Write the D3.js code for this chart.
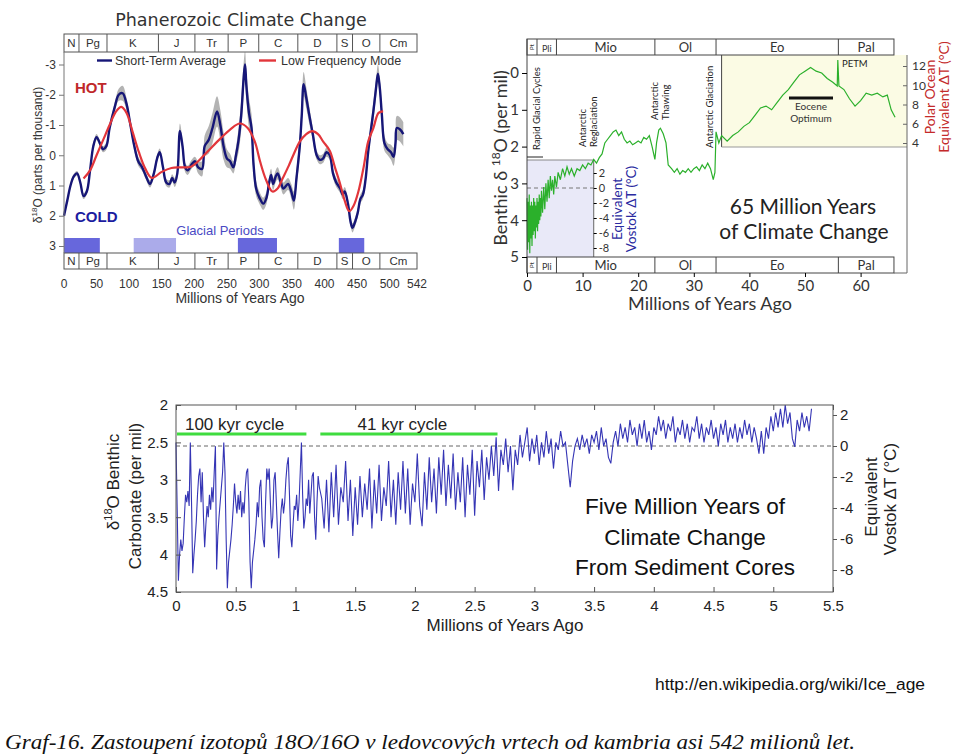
<!DOCTYPE html>
<html><head><meta charset="utf-8">
<script src="https://cdn.jsdelivr.net/npm/d3@7/dist/d3.min.js"></script>
<style>
body{margin:0;background:#fff}
svg{display:block}
text{font-family:"Liberation Sans",Arial,sans-serif;fill:#222}
</style>
</head><body>
<svg id="chart" width="960" height="756"></svg>
<script>
// ================= DATA =================
// Panel 1: Phanerozoic
const periodNames  = ["N","Pg","K","J","Tr","P","C","D","S","O","Cm"];
const periodBounds = [0,23,66,145,201,252,299,359,419,443,485,542];
const glacialFrom  = [0,107,267,422];
const glacialTo    = [55,172,327,461];
const glacialShade = ["dark","light","dark","dark"];
const p1YTicks = [-3,-2,-1,0,1,2,3];
const p1XTicks = [0,50,100,150,200,250,300,350,400,450,500,542];
// [Ma, d18O, uncertainty half-width]
const shortTerm = [
[0,2.0,0.08],[5,1.5,0.08],[10,1.0,0.08],[15,0.7,0.08],[20,0.6,0.08],[25,0.9,0.08],[30,1.35,0.1],[35,1.2,0.1],[40,0.5,0.1],[45,-0.3,0.1],[50,-0.6,0.1],[55,-0.4,0.1],[60,-0.2,0.1],[65,-0.3,0.12],[70,-0.9,0.12],[78,-1.6,0.15],[84,-2.0,0.2],[90,-2.05,0.25],[96,-1.7,0.2],[102,-1.0,0.15],[108,-0.3,0.15],[114,0.2,0.15],[120,0.4,0.12],[126,0.7,0.12],[132,0.95,0.12],[138,0.6,0.12],[143,0.1,0.12],[147,-0.1,0.12],[152,0.4,0.12],[157,0.9,0.12],[162,0.95,0.12],[166,0.75,0.12],[170,0.9,0.15],[174,0.6,0.2],[178,-0.8,0.25],[182,-0.3,0.2],[186,0.4,0.15],[190,0.5,0.15],[196,0.3,0.15],[201,0.2,0.15],[206,0.4,0.2],[212,0.45,0.25],[216,-0.3,0.35],[222,-0.5,0.45],[228,-0.9,0.5],[235,-1.45,0.5],[240,-1.0,0.5],[245,-0.3,0.45],[250,0.1,0.3],[255,0.2,0.25],[260,0.4,0.2],[264,0.0,0.25],[268,-0.5,0.4],[272,-1.3,0.5],[276,-2.6,0.5],[278,-3.0,0.45],[280,-2.3,0.5],[284,-1.4,0.5],[288,-0.9,0.45],[291,0.3,0.35],[295,1.1,0.25],[300,1.4,0.2],[306,1.6,0.2],[311,1.4,0.2],[315,0.9,0.2],[318,0.65,0.2],[321,0.95,0.2],[325,0.7,0.2],[328,0.6,0.2],[333,0.9,0.2],[337,1.1,0.2],[344,0.95,0.2],[349,1.2,0.25],[353,1.5,0.3],[357,0.75,0.3],[362,-0.3,0.35],[365,-1.3,0.4],[368,-2.35,0.4],[372,-1.9,0.35],[376,-1.4,0.3],[382,-0.7,0.2],[388,0.0,0.15],[393,0.15,0.15],[398,0.1,0.15],[403,-0.1,0.15],[408,0.0,0.15],[413,0.6,0.15],[418,0.9,0.15],[424,1.1,0.15],[428,1.3,0.15],[431,1.2,0.15],[436,1.6,0.15],[440,2.2,0.15],[443,2.4,0.15],[447,2.2,0.15],[451,1.9,0.15],[455,1.45,0.15],[459,1.3,0.15],[463,0.8,0.2],[467,-0.1,0.2],[471,-0.8,0.25],[475,-1.45,0.3],[479,-2.2,0.3],[482,-2.7,0.3],[485,-2.2,0.3],[488,-1.35,0.3],[492,-0.4,0.25],[497,-0.2,0.2],[502,-0.1,0.25],[506,0.05,0.3],[509,-0.4,0.35],[511,-0.9,0.4],[516,-0.85,0.4],[521,-0.7,0.4]];
const lowFreq = [
[30,0.77],[40,0.5],[50,0.0],[60,-0.5],[70,-1.0],[80,-1.45],[88,-1.6],[96,-1.4],[105,-0.8],[115,-0.1],[125,0.45],[135,0.75],[150,0.55],[165,0.42],[180,0.4],[195,0.38],[206,0.2],[215,0.0],[224,-0.2],[240,-0.55],[255,-0.85],[270,-1.05],[282,-0.9],[293,-0.45],[301,0.2],[310,0.8],[320,1.2],[328,1.1],[336,0.75],[345,0.35],[352,0.0],[362,-0.45],[372,-0.7],[381,-0.8],[390,-0.7],[398,-0.45],[408,-0.15],[416,0.4],[424,0.95],[431,1.5],[438,1.85],[445,1.65],[452,1.2],[460,0.4],[467,-0.45],[475,-0.9],[483,-1.4],[490,-1.45]];

// Panel 2: 65 Myr
const epochNames  = ["Pt","Pli","Mio","Ol","Eo","Pal"];
const epochBounds = [0,1.8,5.3,23,34,56,66];
const p2XTicks = [0,10,20,30,40,50,60];
const p2YTicks = [0,1,2,3,4,5];
const vostokTicks = [2,0,-2,-4,-6,-8];
const polarTicks = [12,10,8,6,4];
const green65 = [
[0,3.4],[0.1,4.8],[0.2,3.5],[0.3,4.6],[0.4,3.3],[0.5,4.9],[0.6,3.6],[0.7,4.5],[0.8,3.5],[0.9,4.7],[1.0,3.6],[1.1,4.4],[1.2,3.4],[1.3,4.3],[1.4,3.5],[1.5,4.5],[1.6,3.6],[1.7,4.2],[1.8,3.4],[1.9,4.3],[2.0,3.5],[2.1,4.1],[2.2,3.3],[2.3,4.0],[2.4,3.4],[2.5,3.9],[2.6,3.2],[2.8,3.8],[3.0,3.1],[3.2,3.7],[3.4,3.0],[3.6,3.5],[3.8,2.9],[4.0,3.4],[4.2,2.8],[4.4,3.2],[4.6,2.9],[4.8,3.3],[5.0,2.8],[5.3,3.1],[5.6,2.7],[6.0,2.9],[6.4,2.6],[6.8,2.8],[7.2,2.55],[7.6,2.75],[8.0,2.6],[8.5,2.8],[9.0,2.6],[9.5,2.65],[10,2.5],[10.5,2.6],[11,2.45],[11.5,2.5],[12,2.35],[12.5,2.45],[13,2.3],[13.5,2.2],[14,1.9],[14.5,1.8],[15,1.7],[15.5,1.6],[16,1.55],[16.5,1.7],[17,1.6],[17.5,1.8],[18,1.9],[18.5,1.85],[19,1.95],[19.5,1.9],[20,1.85],[20.5,1.9],[21,1.75],[21.5,1.8],[22,1.7],[22.5,2.0],[23,2.35],[23.3,1.9],[23.7,1.55],[24,1.5],[24.5,1.65],[25,1.9],[25.4,2.5],[26,2.6],[26.5,2.7],[27,2.6],[27.5,2.75],[28,2.65],[28.5,2.7],[29,2.6],[29.5,2.7],[30,2.6],[30.5,2.55],[31,2.65],[31.5,2.5],[32,2.6],[32.5,2.45],[33,2.6],[33.5,2.9],[33.8,2.7],[34,1.6],[34.5,1.9],[35,1.7],[36,1.85],[37,1.7],[38,1.6],[39,1.45],[40,1.35],[41,1.15],[42,0.95],[43,0.9],[44,1.0],[45,0.8],[46,0.6],[47,0.45],[48,0.25],[49,0.05],[50,-0.05],[51,-0.15],[52,-0.05],[53,0.0],[54,0.15],[55,0.25],[55.8,0.35],[55.9,-0.35],[56.1,0.35],[57,0.45],[58,0.7],[59,0.9],[60,0.75],[61,0.55],[62,0.6],[63,0.55],[64,0.65],[64.8,0.6],[65.5,1.0],[66.2,1.2]];

// Panel 3: 5 Myr (two uniformly sampled segments)
const cycleAStart = 0, cycleAStep = 0.01;
const cycleA = [
2.5,3.4,4.35,4.0,3.8,3.95,3.85,3.5,3.2,3.3,
3.15,3.35,2.5,3.3,4.25,4.0,3.8,3.55,3.2,2.95,
2.85,3.3,2.9,3.5,3.9,3.6,3.35,3.5,3.2,3.4,
3.1,3.3,2.9,2.55,4.2,3.75,3.5,3.3,3.1,2.9,
2.5,2.9,3.8,4.45,4.1,3.95,3.8,3.6,3.35,3.05,
3.3,3.45,3.2,3.4,3.15,3.5,3.3,3.45,3.1,2.9,
2.85,3.3,4.1,4.45,4.1,3.95,3.8,3.6,3.3,3.5,
3.1,3.0,3.5,3.8,3.9,3.3,2.85,3.0,2.85,3.3,
3.65,3.5,3.0,2.9,3.3,3.7,4.05,3.7,3.4,3.25,
3.45,3.3,3.0,2.8,2.7,3.2,3.75,3.9,3.6,3.35,
3.4,3.2,3.55,3.3,2.9,2.5,3.2,3.65,3.5,3.25,
3.35,3.0,3.45,3.2,2.95,2.9,3.5,3.8,3.3,2.95,
3.1];
const cycleBStart = 1.22, cycleBStep = 0.02;
const cycleB = [
3.25,3.65,3.0,3.7,2.9,3.5,2.8,3.6,3.1,3.3,
2.75,3.55,3.0,3.75,3.1,3.6,2.95,3.5,3.05,3.4,
2.85,3.65,3.0,3.45,2.8,3.55,3.1,3.35,2.75,3.5,
3.0,3.6,2.9,3.4,2.75,3.45,2.85,3.6,3.05,3.3,
2.65,3.35,3.62,2.9,3.4,2.7,3.3,2.85,3.45,2.7,
3.2,2.6,3.35,2.8,3.25,2.65,3.4,2.9,3.3,2.7,
3.5,2.8,3.2,2.6,3.48,2.75,3.1,2.6,3.27,2.7,
3.0,2.55,2.95,2.43,3.15,2.6,2.8,2.45,2.9,2.55,
3.14,2.6,2.8,2.4,2.7,2.5,2.3,2.75,2.45,2.65,
2.4,2.8,2.5,2.7,2.35,2.65,2.45,2.85,2.5,2.6,
2.35,2.55,2.5,2.8,3.1,2.75,2.55,2.45,2.6,2.4,
2.55,2.45,2.65,2.4,2.5,2.35,2.6,2.3,2.55,2.45,
2.7,2.78,2.5,2.35,2.55,2.25,2.45,2.3,2.5,2.2,
2.4,2.3,2.55,2.25,2.45,2.2,2.5,2.35,2.6,2.3,
2.4,2.15,2.35,2.2,2.45,2.25,2.35,2.15,2.5,2.3,
2.4,2.2,2.45,2.25,2.5,2.3,2.35,2.15,2.45,2.25,
2.5,2.3,2.4,2.2,2.45,2.3,2.55,2.25,2.4,2.2,
2.5,2.3,2.45,2.25,2.5,2.3,2.45,2.2,2.4,2.25,
2.5,2.3,2.45,2.65,2.35,2.65,2.3,2.45,2.15,2.35,
2.1,2.3,2.05,2.3,2.0,2.25,2.1,2.45,2.56,2.2,
2.35,2.1,2.3,2.15,2.35,2.05];
const p3XTicks = [0,0.5,1,1.5,2,2.5,3,3.5,4,4.5,5,5.5];
const p3YTicks = [2,2.5,3,3.5,4,4.5];
const p3RightTicks = [2,0,-2,-4,-6,-8];
const cycleLabels = ["100 kyr cycle","41 kyr cycle"];
const cycleSpans  = [[0,1.1],[1.2,2.7]];

// ================= DRAW =================
const svg = d3.select("#chart");

// ---------- Panel 1 ----------
(function(){
  const g = svg.append("g");
  const x = d3.scaleLinear().domain([0,542]).range([64,417]);
  const y = d3.scaleLinear().domain([-3,3]).range([64.5,246]);
  const top=52, bot=253;

  g.append("text").attr("x",241).attr("y",26).attr("text-anchor","middle")
    .style("font-family","'DejaVu Sans',sans-serif").style("font-size","17.5px").style("fill","#333")
    .text("Phanerozoic Climate Change");

  g.selectAll("rect.gl").data(glacialFrom.map((f,i)=>({f,t:glacialTo[i],s:glacialShade[i]})))
    .enter().append("rect")
    .attr("x",d=>x(d.f)).attr("width",d=>x(d.t)-x(d.f))
    .attr("y",238).attr("height",bot-238)
    .attr("fill",d=>d.s==="dark"?"#6767dc":"#ababea");
  g.append("text").attr("x",220).attr("y",235).attr("text-anchor","middle")
    .style("font-size","13px").style("fill","#4a4ac4").text("Glacial Periods");

  g.append("path").datum(shortTerm)
    .attr("d",d3.area().x(d=>x(d[0])).y0(d=>y(d[1]-d[2])).y1(d=>y(d[1]+d[2])).curve(d3.curveCatmullRom))
    .attr("fill","#b3b3b3");
  g.append("path").datum(shortTerm)
    .attr("d",d3.line().x(d=>x(d[0])).y(d=>y(d[1])).curve(d3.curveCatmullRom))
    .attr("fill","none").attr("stroke","#161677").attr("stroke-width",2.4);
  g.append("path").datum(lowFreq)
    .attr("d",d3.line().x(d=>x(d[0])).y(d=>y(d[1])).curve(d3.curveCatmullRom))
    .attr("fill","none").attr("stroke","#e2363b").attr("stroke-width",2.2);

  function band(yTop,h){
    const b = g.append("g");
    b.append("rect").attr("x",x(0)).attr("y",yTop).attr("width",x(542)-x(0)).attr("height",h)
      .attr("fill","#fff").attr("stroke","#555").attr("stroke-width",1);
    b.selectAll("line").data(periodBounds.slice(1,-1)).enter().append("line")
      .attr("x1",d=>x(d)).attr("x2",d=>x(d)).attr("y1",yTop).attr("y2",yTop+h)
      .attr("stroke","#555");
    b.selectAll("text").data(periodNames).enter().append("text")
      .attr("x",(d,i)=>(x(periodBounds[i])+x(periodBounds[i+1]))/2)
      .attr("y",yTop+h/2+4).attr("text-anchor","middle")
      .style("font-size","11.5px").style("fill","#333").text(d=>d);
  }
  band(34,18);
  band(bot,16);

  g.append("line").attr("x1",64).attr("x2",64).attr("y1",top).attr("y2",bot).attr("stroke","#777");
  const ya = g.append("g").attr("transform","translate(64,0)")
    .call(d3.axisLeft(y).tickValues(p1YTicks).tickSize(5).tickPadding(3).tickFormat(d=>String(d)));
  ya.select(".domain").remove();
  ya.selectAll("line").attr("stroke","#777");
  ya.selectAll("text").style("font-size","12px").style("fill","#333").style("font-family","'Liberation Sans',Arial");

  g.selectAll("text.xl").data(p1XTicks).enter().append("text")
    .attr("x",d=>x(d)).attr("y",288).attr("text-anchor","middle")
    .style("font-size","12px").style("fill","#333").text(d=>d);
  g.append("text").attr("x",240).attr("y",303).attr("text-anchor","middle")
    .style("font-size","14px").style("fill","#333").text("Millions of Years Ago");

  const yt = g.append("text").attr("transform","translate(42,155) rotate(-90)").attr("text-anchor","middle")
    .style("font-size","12px").style("fill","#333");
  yt.append("tspan").text("δ");
  yt.append("tspan").attr("dy",-5).style("font-size","8px").text("18");
  yt.append("tspan").attr("dy",5).text("O (parts per thousand)");

  g.append("line").attr("x1",97).attr("x2",112).attr("y1",60.5).attr("y2",60.5).attr("stroke","#161677").attr("stroke-width",2.4);
  g.append("text").attr("x",115).attr("y",65).style("font-size","12.5px").style("fill","#333").text("Short-Term Average");
  g.append("line").attr("x1",259).attr("x2",276).attr("y1",60.5).attr("y2",60.5).attr("stroke","#e2363b").attr("stroke-width",2.4);
  g.append("text").attr("x",281).attr("y",65).style("font-size","12.5px").style("fill","#333").text("Low Frequency Mode");

  g.append("text").attr("x",75).attr("y",93).style("font-size","15px").style("font-weight","bold").style("fill","#c0282a").text("HOT");
  g.append("text").attr("x",75).attr("y",222).style("font-size","15px").style("font-weight","bold").style("fill","#1c1ca0").text("COLD");
})();

// ---------- Panel 2 ----------
(function(){
  const g = svg.append("g");
  const F = "Lato,'Noto Sans',sans-serif";
  const x = d3.scaleLinear().domain([0,65]).range([527,888.4]);
  const y = d3.scaleLinear().domain([0,5]).range([73,257]);
  const yv = d3.scaleLinear().domain([2,-8]).range([173,248]);
  const yp = d3.scaleLinear().domain([12,4]).range([66,143]);
  const bandTop=39, bandH=16, bot=257, botB=273, right=907;

  g.append("rect").attr("x",x(0)).attr("y",160).attr("width",x(12)-x(0)).attr("height",bot-160)
    .attr("fill","#e9e9f8");
  g.append("line").attr("x1",x(0)).attr("x2",x(12)).attr("y1",160).attr("y2",160).attr("stroke","#888");
  g.append("rect").attr("x",x(35)).attr("y",bandTop+bandH).attr("width",right-x(35)).attr("height",147-bandTop-bandH)
    .attr("fill","#fbfbe4");
  g.append("line").attr("x1",x(35)).attr("x2",x(35)).attr("y1",bandTop+bandH).attr("y2",147).attr("stroke","#444");
  g.append("line").attr("x1",x(35)).attr("x2",right).attr("y1",147).attr("y2",147).attr("stroke","#999");

  g.append("line").attr("x1",x(0)).attr("x2",x(12)).attr("y1",yv(0)).attr("y2",yv(0))
    .attr("stroke","#777").attr("stroke-dasharray","4,3");

  g.append("line").attr("x1",x(12)).attr("x2",x(12)).attr("y1",160).attr("y2",bot).attr("stroke","#666");
  const va = g.append("g").attr("transform",`translate(${x(12)},0)`)
    .call(d3.axisRight(yv).tickValues(vostokTicks).tickSize(3).tickPadding(2).tickFormat(d=>String(d)));
  va.select(".domain").remove();
  va.selectAll("text").style("font-size","11px").style("font-family",F).style("fill","#333");

  const pa = g.append("g").attr("transform",`translate(${right},0)`)
    .call(d3.axisRight(yp).tickValues(polarTicks).tickSizeInner(-4).tickSizeOuter(0).tickPadding(5).tickFormat(d=>String(d)));
  pa.select(".domain").remove();
  pa.selectAll("line").attr("stroke","#666");
  pa.selectAll("text").style("font-size","12px").style("font-family",F).style("fill","#333");

  g.append("path").datum(green65)
    .attr("d",d3.line().x(d=>x(d[0])).y(d=>y(d[1])))
    .attr("fill","none").attr("stroke","#2bb02b").attr("stroke-width",1.2);

  function band(yTop){
    const b=g.append("g");
    b.append("rect").attr("x",x(0)).attr("y",yTop).attr("width",x(66)-x(0)).attr("height",bandH)
      .attr("fill","#fff").attr("stroke","#444");
    b.selectAll("line").data(epochBounds.slice(1,-1)).enter().append("line")
      .attr("x1",d=>x(d)).attr("x2",d=>x(d)).attr("y1",yTop).attr("y2",yTop+bandH).attr("stroke","#444");
    b.selectAll("text").data(epochNames).enter().append("text")
      .attr("transform",(d,i)=>{const cx=(x(epochBounds[i])+x(epochBounds[i+1]))/2;
        return i===0?`translate(${cx+2},${yTop+bandH/2}) rotate(-90)`:`translate(${cx},${yTop+bandH/2+4.5})`;})
      .attr("text-anchor","middle")
      .style("font-family",F).style("fill","#333")
      .style("font-size",(d,i)=>i===0?"6px":(i===1?"9px":"13px")).text(d=>d);
  }
  band(bandTop);
  band(bot);

  g.append("line").attr("x1",x(0)).attr("x2",x(0)).attr("y1",bandTop).attr("y2",botB).attr("stroke","#444");
  g.append("line").attr("x1",right).attr("x2",right).attr("y1",bandTop+bandH).attr("y2",botB).attr("stroke","#666");
  g.append("line").attr("x1",x(66)).attr("x2",right).attr("y1",botB).attr("y2",botB).attr("stroke","#666");

  const la = g.append("g").attr("transform",`translate(${x(0)},0)`)
    .call(d3.axisLeft(y).tickValues(p2YTicks).tickSize(5).tickPadding(3).tickFormat(d=>String(d)));
  la.select(".domain").remove();
  la.selectAll("text").style("font-size","15px").style("font-family",F).style("fill","#333");

  const ba = g.append("g").attr("transform",`translate(0,${botB})`)
    .call(d3.axisBottom(x).tickValues(p2XTicks).tickSize(4).tickPadding(3).tickFormat(d=>String(d)));
  ba.select(".domain").remove();
  ba.selectAll("text").style("font-size","15px").style("font-family",F).style("fill","#333");

  g.append("text").attr("x",710).attr("y",310).attr("text-anchor","middle")
    .style("font-family",F).style("font-size","18px").style("fill","#333").text("Millions of Years Ago");
  const yt = g.append("text").attr("transform","translate(507,158) rotate(-90)").attr("text-anchor","middle")
    .style("font-family",F).style("font-size","18px").style("fill","#333");
  yt.append("tspan").text("Benthic δ ");
  yt.append("tspan").attr("dy",-7).style("font-size","12px").text("18");
  yt.append("tspan").attr("dy",7).text("O (per mil)");

  const ann = (cx,yEnd,lines,fs)=>{
    lines.forEach((t,i)=>{
      g.append("text").attr("transform",`translate(${cx+i*fs*1.15},${yEnd}) rotate(-90)`)
        .style("font-family",F).style("font-size",fs+"px").style("fill","#222").text(t);
    });
  };
  ann(540,150,["Rapid Glacial Cycles"],9.5);
  g.append("line").attr("x1",x(0)).attr("x2",543).attr("y1",157).attr("y2",157).attr("stroke","#222");
  ann(586,147,["Antarctic","Reglaciation"],9.5);
  ann(658,120,["Antarctic","Thawing"],9.5);
  ann(713,148,["Antarctic Glaciation"],9.5);

  g.append("text").attr("x",842).attr("y",67).style("font-family",F).style("font-size","9.5px").style("fill","#222").text("PETM");
  g.append("line").attr("x1",789).attr("x2",833).attr("y1",98).attr("y2",98).attr("stroke","#111").attr("stroke-width",3);
  g.append("text").attr("x",811).attr("y",110).attr("text-anchor","middle").style("font-family",F).style("font-size","10px").style("fill","#333").text("Eocene");
  g.append("text").attr("x",811).attr("y",122).attr("text-anchor","middle").style("font-family",F).style("font-size","10px").style("fill","#333").text("Optimum");

  [["Equivalent",622],["Vostok ΔT (°C)",636]].forEach(([t,cx])=>{
    g.append("text").attr("transform",`translate(${cx},209) rotate(-90)`).attr("text-anchor","middle")
      .style("font-family",F).style("font-size","13.5px").style("fill","#2a2aa0").text(t);
  });
  [["Polar Ocean",935],["Equivalent ΔT (°C)",949]].forEach(([t,cx])=>{
    g.append("text").attr("transform",`translate(${cx},97) rotate(-90)`).attr("text-anchor","middle")
      .style("font-family",F).style("font-size","14px").style("fill","#c42a2a").text(t);
  });

  g.append("text").attr("x",803).attr("y",214).attr("text-anchor","middle")
    .style("font-family",F).style("font-size","21px").style("fill","#222").text("65 Million Years");
  g.append("text").attr("x",804).attr("y",239).attr("text-anchor","middle")
    .style("font-family",F).style("font-size","21px").style("fill","#222").text("of Climate Change");
})();

// ---------- Panel 3 ----------
(function(){
  const g = svg.append("g");
  const x = d3.scaleLinear().domain([0,5.5]).range([176,833]);
  const y = d3.scaleLinear().domain([2,4.5]).range([405,592]);
  const yv = d3.scaleLinear().domain([2,-8]).range([415,570]);

  const pts = cycleA.map((v,i)=>[cycleAStart+i*cycleAStep,v])
    .concat(cycleB.map((v,i)=>[cycleBStart+i*cycleBStep,v]));

  g.append("line").attr("x1",x(0)).attr("x2",x(5.5)).attr("y1",yv(0)).attr("y2",yv(0))
    .attr("stroke","#555").attr("stroke-width",0.9).attr("stroke-dasharray","4,3");

  g.append("path").datum(pts)
    .attr("d",d3.line().x(d=>x(d[0])).y(d=>y(d[1])))
    .attr("fill","none").attr("stroke","#3535b5").attr("stroke-width",1.1);

  g.append("rect").attr("x",x(0)).attr("y",y(2)).attr("width",x(5.5)-x(0)).attr("height",y(4.5)-y(2))
    .attr("fill","none").attr("stroke","#555");

  const fmt = d=>String(d);
  const st = sel=>{sel.select(".domain").remove();sel.selectAll("line").attr("stroke","#555");
    sel.selectAll("text").style("font-size","15px").style("fill","#222").style("font-family","'Liberation Sans',Arial");};
  st(g.append("g").attr("transform",`translate(0,${y(4.5)})`)
    .call(d3.axisBottom(x).tickValues(p3XTicks).tickSizeInner(-5).tickSizeOuter(0).tickPadding(8).tickFormat(fmt)));
  st(g.append("g").attr("transform",`translate(0,${y(2)})`)
    .call(d3.axisTop(x).tickValues(p3XTicks).tickSizeInner(-5).tickSizeOuter(0).tickFormat("")));
  st(g.append("g").attr("transform",`translate(${x(0)},0)`)
    .call(d3.axisLeft(y).tickValues(p3YTicks).tickSizeInner(-5).tickSizeOuter(0).tickPadding(8).tickFormat(fmt)));
  st(g.append("g").attr("transform",`translate(${x(5.5)},0)`)
    .call(d3.axisRight(yv).tickValues(p3RightTicks).tickSizeInner(4).tickSizeOuter(0).tickPadding(3).tickFormat(fmt)));

  g.append("text").attr("x",505).attr("y",631).attr("text-anchor","middle")
    .style("font-size","17px").style("fill","#222").text("Millions of Years Ago");

  const l1 = g.append("text").attr("transform","translate(119,482) rotate(-90)").attr("text-anchor","middle")
    .style("font-size","17px").style("fill","#222");
  l1.append("tspan").text("δ");
  l1.append("tspan").attr("dy",-7).style("font-size","11px").text("18");
  l1.append("tspan").attr("dy",7).text("O Benthic");
  g.append("text").attr("transform","translate(141,496) rotate(-90)").attr("text-anchor","middle")
    .style("font-size","17px").style("fill","#222").text("Carbonate (per mil)");
  g.append("text").attr("transform","translate(877,497) rotate(-90)").attr("text-anchor","middle")
    .style("font-size","17px").style("fill","#222").text("Equivalent");
  g.append("text").attr("transform","translate(896,499) rotate(-90)").attr("text-anchor","middle")
    .style("font-size","17px").style("fill","#222").text("Vostok ΔT (°C)");

  cycleSpans.forEach((s,i)=>{
    g.append("line").attr("x1",x(s[0])+1).attr("x2",x(s[1])-1).attr("y1",434).attr("y2",434)
      .attr("stroke","#3fdc3f").attr("stroke-width",3);
  });
  g.append("text").attr("x",x(0.075)).attr("y",430).style("font-size","17px").style("fill","#222").text(cycleLabels[0]);
  g.append("text").attr("x",x(1.52)).attr("y",430).style("font-size","17px").style("fill","#222").text(cycleLabels[1]);

  ["Five Million Years of","Climate Change","From Sediment Cores"].forEach((t,i)=>{
    g.append("text").attr("x",685).attr("y",514+i*30.5).attr("text-anchor","middle")
      .style("font-size","22.5px").style("fill","#111").text(t);
  });
})();

// ---------- Footer ----------
svg.append("text").attr("x",655).attr("y",690)
  .attr("textLength",270).attr("lengthAdjust","spacingAndGlyphs")
  .style("font-family","'Liberation Sans Narrow','Liberation Sans',Arial").style("font-size","16px").style("fill","#111")
  .text("http://en.wikipedia.org/wiki/Ice_age");
svg.append("text").attr("x",5).attr("y",749)
  .attr("textLength",850).attr("lengthAdjust","spacingAndGlyphs")
  .style("font-family","'Liberation Serif','Times New Roman',serif").style("font-style","italic")
  .style("font-size","21px").style("fill","#111")
  .text("Graf-16. Zastoupení izotopů 18O/16O v ledovcových vrtech od kambria asi 542 milionů let.");
</script>
</body></html>
